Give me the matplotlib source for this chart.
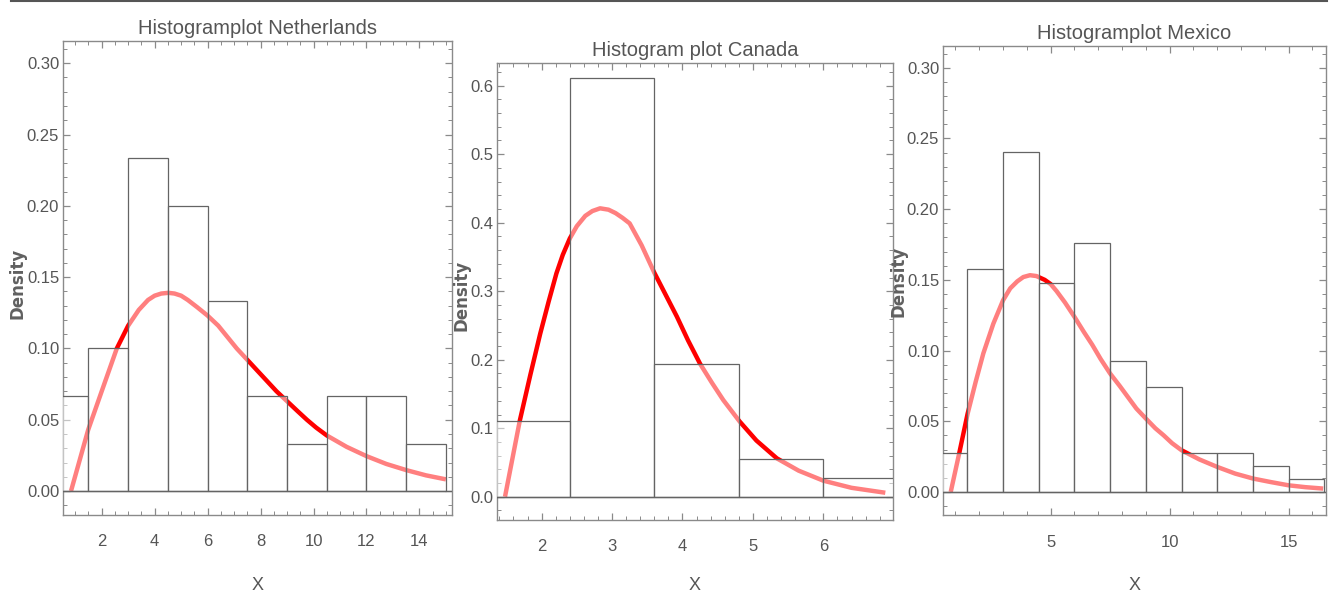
#!/usr/bin/env python3
"""Three histogram panels with fitted density curves (Netherlands, Canada, Mexico)."""

import matplotlib
matplotlib.use("Agg")
import matplotlib.pyplot as plt
from matplotlib.lines import Line2D
from matplotlib.ticker import MultipleLocator, FormatStrFormatter

plt.rcParams["font.family"] = ["Liberation Sans", "DejaVu Sans"]

# --- Netherlands -----------------------------------------------------------
NL_EDGES = [0, 1.5, 3, 4.5, 6, 7.5, 9, 10.5, 12, 13.5, 15]
NL_HEIGHTS = [0.0667, 0.1, 0.2333, 0.2, 0.1333, 0.0667, 0.0333, 0.0667, 0.0667, 0.0333]
NL_CURVE_X = [0.84, 1.49, 2.0, 2.57, 3.0, 3.4, 3.75, 4.0, 4.25, 4.52, 4.75, 5.0,
              5.25, 5.6, 6.0, 6.4, 6.75, 7.1, 7.5, 7.9, 8.25, 8.6, 9.0, 9.4,
              9.75, 10.1, 10.5, 11.25, 12.0, 12.75, 13.5, 14.25, 15.0]
NL_CURVE_Y = [0.0, 0.043, 0.070, 0.100, 0.116, 0.127, 0.134, 0.137, 0.1385, 0.139,
              0.1385, 0.137, 0.134, 0.129, 0.123, 0.116, 0.108, 0.100, 0.092,
              0.084, 0.077, 0.070, 0.063, 0.056, 0.050, 0.0445, 0.039, 0.031,
              0.0245, 0.019, 0.0147, 0.011, 0.0082]

# --- Canada ----------------------------------------------------------------
CA_EDGES = [1.2, 2.4, 3.6, 4.8, 6.0, 7.2]
CA_HEIGHTS = [0.111, 0.611, 0.194, 0.0556, 0.0278]
CA_CURVE_X = [1.48, 1.69, 1.84, 1.98, 2.10, 2.21, 2.30, 2.40, 2.50, 2.62, 2.72,
              2.83, 2.95, 3.05, 3.15, 3.25, 3.42, 3.60, 3.76, 3.92, 4.08, 4.25,
              4.42, 4.58, 4.81, 5.05, 5.34, 5.65, 6.0, 6.4, 6.88]
CA_CURVE_Y = [0.0, 0.111, 0.178, 0.238, 0.285, 0.326, 0.353, 0.377, 0.395, 0.410,
              0.417, 0.421, 0.419, 0.414, 0.407, 0.399, 0.367, 0.327, 0.295,
              0.263, 0.228, 0.194, 0.166, 0.141, 0.110, 0.082, 0.056, 0.038,
              0.0234, 0.013, 0.0058]

# --- Mexico ----------------------------------------------------------------
MX_EDGES = [0, 1.5, 3, 4.5, 6, 7.5, 9, 10.5, 12, 13.5, 15, 16.5]
MX_HEIGHTS = [0.0278, 0.1574, 0.2407, 0.1481, 0.1759, 0.0926, 0.0741,
              0.0278, 0.0278, 0.0185, 0.0093]
MX_CURVE_X = [0.80, 1.16, 1.51, 1.85, 2.17, 2.59, 3.0, 3.3, 3.6, 3.85, 4.13,
              4.4, 4.75, 5.0, 5.25, 5.6, 6.0, 6.4, 6.75, 7.1, 7.5, 7.9, 8.25,
              8.6, 9.0, 9.4, 9.75, 10.1, 10.5, 11.25, 12.0, 12.75, 13.5,
              14.25, 15.0, 15.7, 16.45]
MX_CURVE_Y = [0.0, 0.0276, 0.0554, 0.078, 0.098, 0.119, 0.1356, 0.144, 0.149,
              0.152, 0.1533, 0.1527, 0.150, 0.147, 0.142, 0.134, 0.1238, 0.113,
              0.104, 0.094, 0.0837, 0.075, 0.067, 0.059, 0.0519, 0.045, 0.040,
              0.0345, 0.0295, 0.023, 0.0177, 0.013, 0.0095, 0.007, 0.0047,
              0.0034, 0.0024]

PANELS = [
    dict(title="Histogramplot Netherlands", edges=NL_EDGES, heights=NL_HEIGHTS,
         cx=NL_CURVE_X, cy=NL_CURVE_Y, rect=[0.0474, 0.1359, 0.2907, 0.7958],
         xlim=(0.55, 15.22), ylim=(-0.0168, 0.3158), xmaj=2, xmin=0.5,
         ymaj=0.05, ymin=0.01, yfmt="%.2f", dens=(0.0130, 0.524)),
    dict(title="Histogram plot Canada", edges=CA_EDGES, heights=CA_HEIGHTS,
         cx=CA_CURVE_X, cy=CA_CURVE_Y, rect=[0.3722, 0.1275, 0.2960, 0.7663],
         xlim=(1.37, 6.985), ylim=(-0.034, 0.6327), xmaj=1, xmin=0.2,
         ymaj=0.1, ymin=0.02, yfmt="%.1f", dens=(0.3455, 0.505)),
    dict(title="Histogramplot Mexico", edges=MX_EDGES, heights=MX_HEIGHTS,
         cx=MX_CURVE_X, cy=MX_CURVE_Y, rect=[0.7061, 0.1354, 0.2861, 0.7879],
         xlim=(0.49, 16.55), ylim=(-0.0165, 0.3156), xmaj=5, xmin=1,
         ymaj=0.05, ymin=0.01, yfmt="%.2f", dens=(0.6722, 0.528)),
]

FRAME = "#8a8a8a"
TEXT = "#555555"
EDGE = "#646464"


def draw_panel(fig, p):
    ax = fig.add_axes(p["rect"])
    # curve in full red; the half-transparent white bars laid over it turn it pink inside bars
    ax.plot(p["cx"], p["cy"], color="#ff0000", lw=3.2, solid_capstyle="butt",
            solid_joinstyle="round", zorder=2)
    edges = p["edges"]
    lefts = edges[:-1]
    widths = [b - a for a, b in zip(edges[:-1], edges[1:])]
    ax.bar(lefts, p["heights"], width=widths, align="edge",
           facecolor=(1, 1, 1, 0.5), edgecolor=EDGE, linewidth=0.9, zorder=3)
    ax.axhline(0, color=EDGE, lw=1.0, zorder=4)

    ax.set_xlim(*p["xlim"])
    ax.set_ylim(*p["ylim"])
    ax.xaxis.set_major_locator(MultipleLocator(p["xmaj"]))
    ax.xaxis.set_minor_locator(MultipleLocator(p["xmin"]))
    ax.yaxis.set_major_locator(MultipleLocator(p["ymaj"]))
    ax.yaxis.set_minor_locator(MultipleLocator(p["ymin"]))
    ax.yaxis.set_major_formatter(FormatStrFormatter(p["yfmt"]))
    ax.tick_params(which="both", direction="in", top=True, right=True,
                   color=FRAME, labelcolor=TEXT, labelsize=12)
    ax.tick_params(which="major", length=5, width=0.9)
    ax.tick_params(which="minor", length=2.8, width=0.7)
    ax.tick_params(axis="y", which="major", pad=3)
    ax.tick_params(axis="x", which="major", pad=14)
    for s in ax.spines.values():
        s.set_color(FRAME)
        s.set_linewidth(1.0)

    ax.set_title(p["title"], fontsize=14.5, color=TEXT, pad=5)
    x0, y0, w, h = p["rect"]
    fig.text(x0 + w / 2, 0.017, "X", ha="center", va="center",
             fontsize=13, color=TEXT)
    fig.text(p["dens"][0], p["dens"][1], "Density", rotation=90, ha="center",
             va="center", fontsize=12, fontweight="bold", color="#606060",
             family=["DejaVu Sans"])
    return ax


def main():
    fig = plt.figure(figsize=(13.36, 5.96), dpi=100)
    for p in PANELS:
        draw_panel(fig, p)
    # thin screenshot border along the top
    fig.add_artist(Line2D([0.008, 0.993], [0.998, 0.998], color="#555555", lw=1.5))
    fig.savefig("out.png", dpi=100)


if __name__ == "__main__":
    main()
